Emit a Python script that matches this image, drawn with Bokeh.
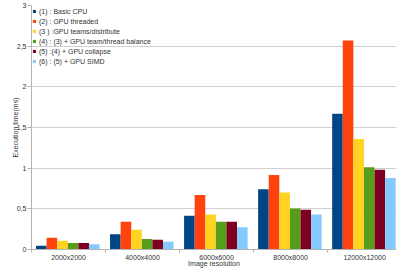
import numpy as np
from bokeh.plotting import figure
from bokeh.models import Range1d, FixedTicker
from bokeh.embed import file_html
from bokeh.resources import INLINE

categories = ["2000x2000", "4000x4000", "6000x6000", "8000x8000", "12000x12000"]
series_names = [
    "(1) : Basic CPU",
    "(2) : GPU threaded",
    "(3 ) :GPU teams/distribute",
    "(4) : (3) + GPU team/thread balance",
    "(5) :(4) + GPU collapse",
    "(6) : (5) + GPU SIMD",
]
s1 = [0.047, 0.187, 0.415, 0.74, 1.67]
s2 = [0.145, 0.34, 0.67, 0.915, 2.57]
s3 = [0.108, 0.243, 0.43, 0.70, 1.36]
s4 = [0.08, 0.129, 0.34, 0.505, 1.01]
s5 = [0.08, 0.12, 0.34, 0.49, 0.98]
s6 = [0.064, 0.096, 0.275, 0.43, 0.88]
series = [s1, s2, s3, s4, s5, s6]
colors = ["#004586", "#ff420e", "#ffd320", "#579d1c", "#7e0021", "#83caff"]
y_ticks = [0, 0.5, 1, 1.5, 2, 2.5, 3]
y_labels = ["0", "0,5", "1", "1,5", "2", "2,5", "3"]
x_title = "Image resolution"
y_title = "Execution time(ms)"

FONT = "Liberation Sans"
TXT = "#333333"

p = figure(width=396, height=269, output_backend="svg", toolbar_location=None,
           x_range=Range1d(0, 4.93), y_range=Range1d(0, 3),
           min_border_left=31, min_border_right=0, min_border_top=5, min_border_bottom=19)
p.outline_line_color = None

centers = np.arange(len(categories)) + 0.5
bw = 0.143
for i, (vals, name, col) in enumerate(zip(series, series_names, colors)):
    xs = centers + (i - 2.5) * bw - 0.01
    p.vbar(x=xs, top=vals, width=bw, bottom=0, fill_color=col, line_color=None,
           legend_label=name)

# x axis
xa = p.xaxis[0]
xa.ticker = FixedTicker(ticks=list(centers), minor_ticks=list(range(len(categories) + 1)))
xa.major_label_overrides = {float(c): lab for c, lab in zip(centers, categories)}
xa.major_tick_line_color = None
xa.major_tick_out = 3
xa.major_tick_in = 0
xa.minor_tick_line_color = "#b3b3b3"
xa.minor_tick_in = 0
xa.minor_tick_out = 3
xa.axis_line_color = "#b3b3b3"
xa.major_label_standoff = 1
xa.axis_label = x_title
xa.axis_label_standoff = -4

# y axis
ya = p.yaxis[0]
ya.ticker = FixedTicker(ticks=y_ticks)
ya.major_label_overrides = {float(t): l for t, l in zip(y_ticks, y_labels)}
ya.major_tick_line_color = "#b3b3b3"
ya.major_tick_in = 0
ya.major_tick_out = 4
ya.minor_tick_line_color = None
ya.axis_line_color = "#b3b3b3"
ya.major_label_standoff = 1
ya.axis_label = y_title
ya.axis_label_standoff = -5

for ax in (xa, ya):
    ax.major_label_text_font = FONT
    ax.major_label_text_font_size = "7px"
    ax.major_label_text_color = TXT
    ax.axis_label_text_font = FONT
    ax.axis_label_text_font_size = "7px"
    ax.axis_label_text_font_style = "normal"
    ax.axis_label_text_color = TXT

p.xgrid.grid_line_color = None
p.ygrid.grid_line_color = "#d0d0d0"
p.ygrid.ticker = FixedTicker(ticks=y_ticks)

lg = p.legend[0]
lg.location = "top_left"
lg.margin = 1
lg.padding = 4
lg.spacing = 0
lg.glyph_width = 4
lg.glyph_height = 4
lg.label_height = 10
lg.label_standoff = 3
lg.label_text_font = FONT
lg.label_text_font_size = "7px"
lg.label_text_color = TXT
lg.background_fill_alpha = 0
lg.border_line_color = None

open("out.html", "w").write(file_html(p, INLINE))
